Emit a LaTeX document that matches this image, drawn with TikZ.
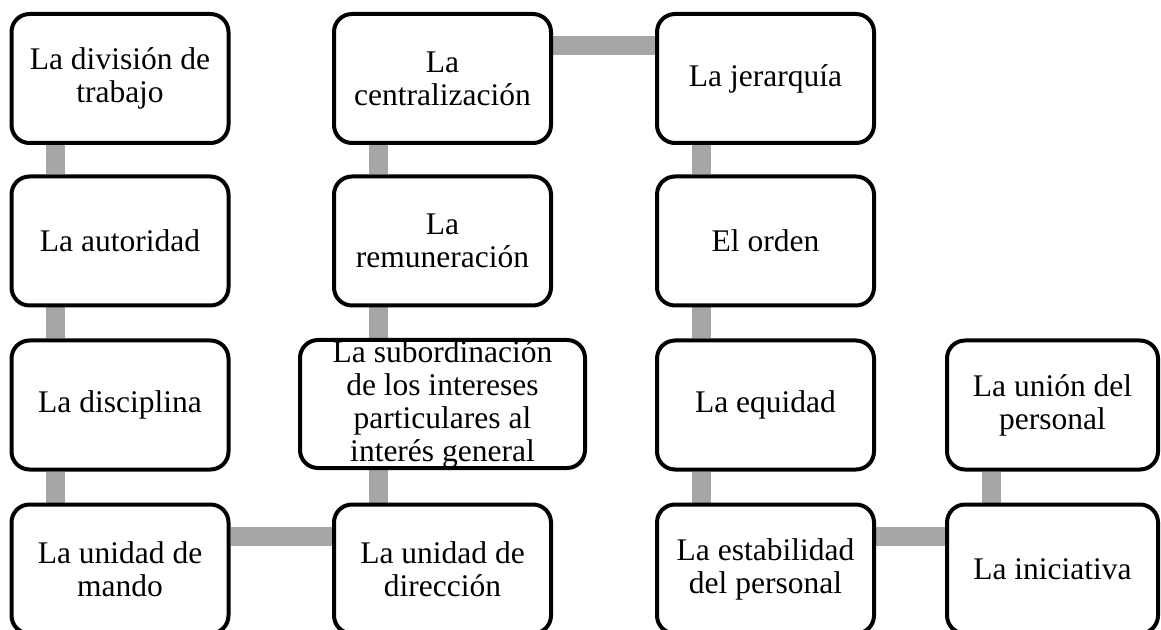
\documentclass[tikz,border=0pt]{standalone}
\usepackage{fontspec}
\setmainfont{Liberation Serif}
\usetikzlibrary{positioning, backgrounds}
\definecolor{linkcolor}{RGB}{166, 166, 166}

\begin{document}
\begin{tikzpicture}[x=0.5pt, y=-0.5pt,
    box/.style={draw, line width=2pt, rounded corners=9pt, fill=white, align=center, inner sep=0pt, minimum width=108.5pt, minimum height=64.5pt, font=\fontsize{15.75}{16.5}\selectfont},
    narrow/.style={box, minimum width=105.5pt},
    wide/.style={box, minimum width=142.5pt, minimum height=64pt},
    link/.style={draw=linkcolor, line width=9.5pt}
]
\useasboundingbox (0, 0) rectangle (1161, 630);

% First column
\node[box] (division) at (120, 78.5) {La división de\\trabajo};
\node[box] (autoridad) at (120, 241) {La autoridad};
\node[box] (disciplina) at (120, 405) {La disciplina};
\node[box] (mando) at (120, 569) {La unidad de\\mando};

% Second column
\node[box] (centralizacion) at (442.5, 78.5) {La\\centralización};
\node[box] (remuneracion) at (442.5, 241) {La\\remuneración};
\node[wide] (subordinacion) at (442.5, 404) {La subordinación\\de los intereses\\particulares al\\interés general};
\node[box] (direccion) at (442.5, 569) {La unidad de\\dirección};

% Third column
\node[box] (jerarquia) at (765.5, 78.5) {La jerarquía};
\node[box] (orden) at (765.5, 241) {El orden};
\node[box] (equidad) at (765.5, 405) {La equidad};
\node[box] (estabilidad) at (765.5, 569) {La estabilidad\\del personal};

% Fourth column
\node[narrow] (union) at (1052.5, 405) {La unión del\\personal};
\node[narrow] (iniciativa) at (1052.5, 569) {La iniciativa};

% Flow
\begin{scope}[on background layer]
\draw[link] ([xshift=23pt]division.south west) -- ([xshift=23pt]autoridad.north west);
\draw[link] ([xshift=23pt]autoridad.south west) -- ([xshift=23pt]disciplina.north west);
\draw[link] ([xshift=23pt]disciplina.south west) -- ([xshift=23pt]mando.north west);
\draw[link] ([yshift=-17pt]mando.north east) -- ([yshift=-17pt]direccion.north west);
\draw[link] ([xshift=23pt]direccion.north west) -- ([xshift=23pt]direccion.north west |- subordinacion.south);
\draw[link] ([xshift=23pt]remuneracion.south west) -- ([xshift=23pt]remuneracion.south west |- subordinacion.north);
\draw[link] ([xshift=23pt]remuneracion.north west) -- ([xshift=23pt]centralizacion.south west);
\draw[link] ([yshift=-17pt]centralizacion.north east) -- ([yshift=-17pt]jerarquia.north west);
\draw[link] ([xshift=23pt]jerarquia.south west) -- ([xshift=23pt]orden.north west);
\draw[link] ([xshift=23pt]orden.south west) -- ([xshift=23pt]equidad.north west);
\draw[link] ([xshift=23pt]equidad.south west) -- ([xshift=23pt]estabilidad.north west);
\draw[link] ([yshift=-17pt]estabilidad.north east) -- ([yshift=-17pt]iniciativa.north west);
\draw[link] ([xshift=23pt]iniciativa.north west) -- ([xshift=23pt]union.south west);
\end{scope}

\end{tikzpicture}
\end{document}
